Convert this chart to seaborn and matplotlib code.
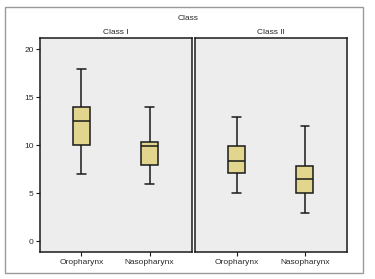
import matplotlib
matplotlib.use("Agg")
import matplotlib.pyplot as plt
import seaborn as sns
import pandas as pd
from matplotlib.patches import Rectangle

sns.set_style("white")
plt.rcParams['font.family'] = ['Liberation Sans', 'DejaVu Sans']

panels = ["Class I", "Class II"]
categories = ["Oropharynx", "Nasopharynx"]
# five-number summaries: min, Q1, median, Q3, max
class1_oro = [7, 10, 12.5, 14, 18]
class1_naso = [6, 8, 9.9, 10.4, 14]
class2_oro = [5, 7.1, 8.4, 9.9, 13]
class2_naso = [3, 5, 6.45, 7.9, 12]
yticks = [0, 5, 10, 15, 20]

rows = []
for panel, series in zip(panels, [(class1_oro, class1_naso), (class2_oro, class2_naso)]):
    for cat, vals in zip(categories, series):
        for v in vals:
            rows.append({"Class": panel, "Site": cat, "Value": v})
df = pd.DataFrame(rows)

W, H = 375, 279
fig = plt.figure(figsize=(W / 100, H / 100), dpi=100)

def px_axes(x0, y0, x1, y1):
    return fig.add_axes([x0 / W, 1 - y1 / H, (x1 - x0) / W, (y1 - y0) / H])

ax1 = px_axes(40, 38.3, 191.7, 252)
ax2 = px_axes(195, 38.3, 347.3, 252)

txt = "#2a2a2a"
# outer frame
fig.patches.append(Rectangle((5 / W, 1 - 273 / H), (362.5 - 5) / W, (273 - 7) / H,
                             transform=fig.transFigure, fill=False,
                             edgecolor="#9a9a9a", linewidth=1.0))
fig.text(188 / W, 1 - 18 / H, "Class", ha="center", va="center", fontsize=6, color=txt)

box_color = "#E2D68E"
bg = "#ECEDEC"
for ax, panel in zip([ax1, ax2], panels):
    sub = df[df["Class"] == panel]
    sns.boxplot(data=sub, x="Site", y="Value", order=categories, ax=ax,
                color=box_color, width=0.25, whis=(0, 100), fill=True,
                linecolor="#1a1a1a", linewidth=1.1, saturation=1)
    ax.set_facecolor(bg)
    ax.set_xlim(-0.61, 1.62)
    ax.set_ylim(-1.1, 21.15)
    ax.set_xlabel("")
    ax.set_ylabel("")
    ax.set_title(panel, fontsize=6, pad=3, color=txt)
    for s in ax.spines.values():
        s.set_visible(True)
        s.set_color("#1a1a1a")
        s.set_linewidth(1.1)
    ax.tick_params(axis="x", labelsize=6, length=3, width=0.8, color="#1a1a1a",
                   labelcolor=txt, bottom=True, pad=2)
    ax.tick_params(axis="y", labelsize=6, length=3, width=0.8, color="#1a1a1a",
                   labelcolor=txt, left=True, pad=1.5)
    ax.set_yticks(yticks)

ax2.tick_params(axis="y", left=False, labelleft=False)

fig.savefig("out.png", dpi=100)
